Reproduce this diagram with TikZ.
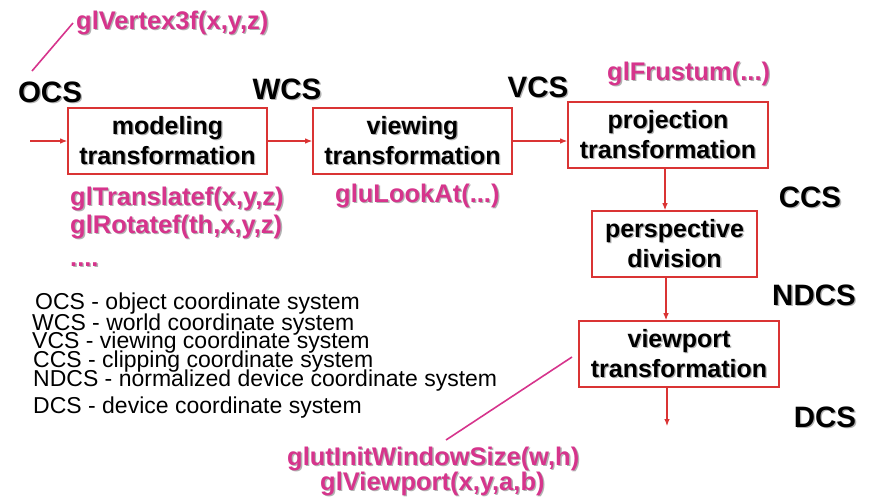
\documentclass[tikz,border=0pt]{standalone}
\usepackage{fontspec}
\setmainfont{Liberation Sans}
\usetikzlibrary{arrows.meta,calc}
\definecolor{boxred}{RGB}{218,52,52}
\definecolor{glpink}{RGB}{214,52,140}
% bold text with a soft grey drop shadow
\newcommand\shtext[1]{\rlap{\kern1.3pt\raisebox{-1.3pt}{\textcolor{black!30}{#1}}}#1}
\begin{document}
\begin{tikzpicture}[x=1pt,y=-1pt,
  stage/.style={draw=boxred,line width=1.6pt,fill=white,inner sep=0pt,
    align=center,font=\bfseries\fontsize{25}{29.5}\selectfont},
  flow/.style={draw=boxred,line width=1.1pt,-{Latex[length=7pt,width=5.5pt]}},
  cs/.style={font=\bfseries\fontsize{29.5}{32}\selectfont,inner sep=0pt},
  glcall/.style={text=glpink,font=\bfseries\fontsize{25.5}{30}\selectfont,inner sep=0pt,anchor=base west},
  hint/.style={draw=glpink,line width=1.6pt},
  legend/.style={font=\fontsize{23}{19}\selectfont,inner sep=0pt,anchor=base west,
    text height=14pt,text depth=3pt}]
\useasboundingbox (0,0) rectangle (878,498);

% pipeline stages
\node[stage,minimum width=199,minimum height=66] (model) at (167.5,141) {\shtext{modeling}\\\shtext{transformation}};
\node[stage,minimum width=199,minimum height=66] (view) at (412.5,141) {\shtext{viewing}\\\shtext{transformation}};
\node[stage,minimum width=200,minimum height=66] (proj) at (668,135) {\shtext{projection}\\\shtext{transformation}};
\node[stage,minimum width=165,minimum height=66] (persp) at (674.5,244) {\shtext{perspective}\\\shtext{division}};
\node[stage,minimum width=200,minimum height=66] (vport) at (679,354) {\shtext{viewport}\\\shtext{transformation}};

% coordinate system names
\node[cs] (ocs) at (50,93) {\shtext{OCS}};
\node[cs] (wcs) at (287,90) {\shtext{WCS}};
\node[cs] (vcs) at (538,88) {\shtext{VCS}};
\node[cs] (ccs) at (810,198) {\shtext{CCS}};
\node[cs] (ndcs) at (814,296) {\shtext{NDCS}};
\node[cs] (dcs) at (825,418) {\shtext{DCS}};

% connectors
\coordinate (in) at (30,141);
\coordinate (out) at (667,426);
\draw[flow] (in) -- (model.west);
\draw[flow] (model.east) -- (view.west);
\draw[flow] (view.east) -- (view.east -| proj.west);
\draw[flow] ([xshift=-3pt]proj.south) -- ([xshift=-3pt]proj.south |- persp.north);
\draw[flow] ([xshift=-8.5pt]persp.south) -- ([xshift=-8.5pt]persp.south |- vport.north);
\draw[flow] (vport.south -| out) -- (out);

% OpenGL calls
\node[glcall] (vertex) at (76,29) {\shtext{glVertex3f(x,y,z)}};
\node[glcall] (transl) at (70,205) {\shtext{glTranslatef(x,y,z)}};
\node[glcall] (rot) at (70,233) {\shtext{glRotatef(th,x,y,z)}};
\node[glcall] (dots) at (70,266) {\shtext{....}};
\node[glcall] (look) at (335,202) {\shtext{gluLookAt(...)}};
\node[glcall] (frust) at (607,80) {\shtext{glFrustum(...)}};
\node[glcall] (winsize) at (287,465) {\shtext{glutInitWindowSize(w,h)}};
\node[glcall] (viewp) at (320,490) {\shtext{glViewport(x,y,a,b)}};

\coordinate (v1) at (32,71);
\coordinate (v2) at (73,23);
\draw[hint] (v1) -- (v2);
\coordinate (w1) at (446,440);
\coordinate (w2) at (572,357);
\draw[hint] (w1) -- (w2);

% legend
\node[legend] (l1) at (35,309) {OCS - object coordinate system};
\node[legend] (l2) at (32,330) {WCS - world coordinate system};
\node[legend] (l3) at (32,348) {VCS - viewing coordinate system};
\node[legend] (l4) at (33,367) {CCS - clipping coordinate system};
\node[legend] (l5) at (33,386) {NDCS - normalized device coordinate system};
\node[legend] (l6) at (33,413) {DCS - device coordinate system};
\end{tikzpicture}
\end{document}
